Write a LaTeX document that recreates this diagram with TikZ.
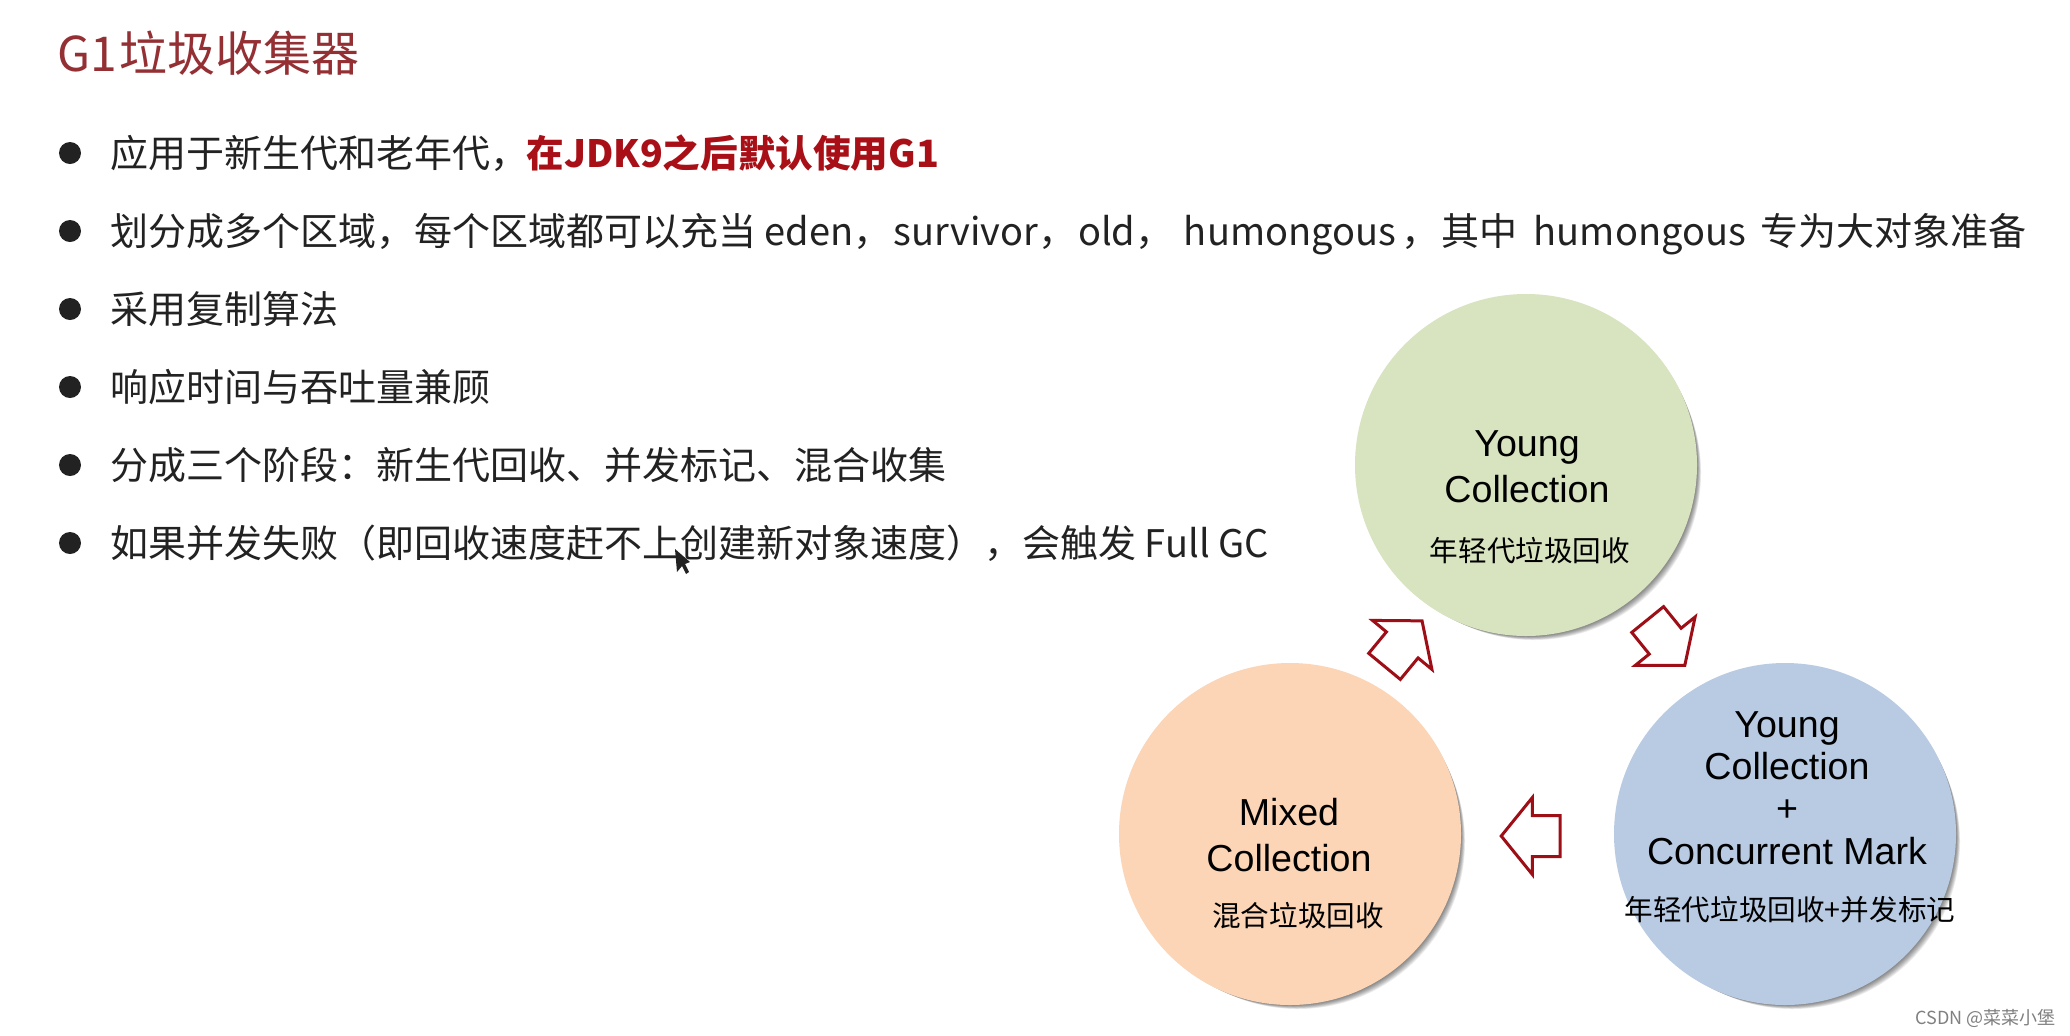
\documentclass[tikz,border=0pt]{standalone}
\usepackage{fontspec}
\setmainfont{Noto Sans CJK SC}
\newfontfamily\latinfont{Liberation Sans}
\newcommand{\zhcomma}{^^^^ff0c}
\newcommand{\zhcolon}{^^^^ff1a}
\newcommand{\zhopen}{^^^^ff08}
\newcommand{\zhclose}{^^^^ff09}
\usetikzlibrary{shapes.arrows}
\definecolor{titlered}{HTML}{943034}
\definecolor{boldred}{HTML}{A80F16}
\definecolor{arrowred}{HTML}{9E0E16}
\definecolor{younggreen}{HTML}{D8E3BF}
\definecolor{markblue}{HTML}{B9CBE3}
\definecolor{mixedorange}{HTML}{FBD5B6}
\definecolor{inktext}{HTML}{222222}
\tikzset{
  dotmark/.style={circle,fill=inktext,minimum size=11pt,inner sep=0pt},
  bulletline/.style={anchor=base west,inner sep=0pt,text=inktext,font=\fontsize{19}{23}\selectfont},
  stage/.style={circle,minimum size=171pt,inner sep=0pt},
  stagename/.style={align=center,inner sep=0pt,text=black,font=\latinfont\fontsize{18.8}{23}\selectfont},
  stagenote/.style={inner sep=0pt,text=black,font=\fontsize{14.3}{17}\selectfont},
  blockarrow/.style={single arrow,draw=arrowred,fill=white,line width=1.5pt,inner xsep=0pt,inner ysep=9.5pt,
    minimum height=29.5pt,minimum width=37.5pt,single arrow head extend=9pt,
    single arrow tip angle=102,single arrow head indent=0pt}
}
\begin{document}
\begin{tikzpicture}[x=0.5pt,y=-0.5pt]
\fill[white] (0,0) rectangle (2070,1035);
\useasboundingbox (0,0) rectangle (2070,1035);
\node[anchor=west,inner sep=0pt,text=titlered,font=\fontsize{24}{28}\selectfont] (title) at (57,53) {G1\hspace{1pt}垃圾收集器};
% bullets
\node[dotmark] (dota) at (70,153) {};
\node[bulletline] (linea) at (110,167) {应用于新生代和老年代\zhcomma\hspace{-1pt}\textcolor{boldred}{\bfseries\fontsize{18.8}{23}\selectfont 在JDK9之后默认使用G1}};
\node[dotmark] (dotb) at (70,231) {};
\node[bulletline] (lineb) at (110,245) {划分成多个区域\zhcomma 每个区域都可以充当 eden\zhcomma\hspace{1pt}survivor\zhcomma\hspace{1pt}old\zhcomma\hspace{1pt} humongous\hspace{2.5pt}\zhcomma\hspace{1pt}其中\hspace{4pt} humongous\hspace{3pt} 专为大对象准备};
\node[dotmark] (dotc) at (70,309) {};
\node[bulletline] (linec) at (110,323) {采用复制算法};
\node[dotmark] (dotd) at (70,387) {};
\node[bulletline] (lined) at (110,401) {响应时间与吞吐量兼顾};
\node[dotmark] (dote) at (70,465) {};
\node[bulletline] (linee) at (110,479) {分成三个阶段\zhcolon 新生代回收、并发标记、混合收集};
\node[dotmark] (dotf) at (70,543) {};
\node[bulletline] (linef) at (110,557) {如果并发失败\zhopen 即回收速度赶不上创建新对象速度\zhclose\zhcomma 会触发 Full GC};
% soft shadows
\foreach \cx/\cy in {1526/465,1785/834,1290/834}
  \foreach \s in {1,...,8}
    \fill[black,opacity=0.07] (\cx+\s,\cy+\s) circle (171-\s/2);
% circles
\node[stage,fill=younggreen] (young) at (1526,465) {};
\node[stage,fill=markblue] (mark) at (1785,834) {};
\node[stage,fill=mixedorange] (mixed) at (1290,834) {};
\node[stagename] (youngname) at (1527,467) {Young\\Collection};
\node[stagenote] (youngnote) at (1530,551) {年轻代垃圾回收};
\node[stagename,font=\latinfont\fontsize{18.8}{21.2}\selectfont] (markname) at (1787,788) {Young\\Collection\\+\\Concurrent Mark};
\node[stagenote] (marknote) at (1790,910) {年轻代垃圾回收+并发标记};
\node[stagename] (mixedname) at (1289,835) {Mixed\\Collection};
\node[stagenote] (mixednote) at (1298,916) {混合垃圾回收};
% arrows
\node[blockarrow,rotate=-51] (youngtomark) at (1661,636) {};
\node[blockarrow,rotate=180] (marktomixed) at (1539,836) {};
\node[blockarrow,rotate=50.5] (mixedtoyoung) at (1398,650) {};
% cursor
\fill[inktext] (675,549) -- (677,572) -- (682,566) -- (686,574) -- (689,572) -- (685,564) -- (690,562) -- cycle;
\node[anchor=east,inner sep=0pt,text=gray,font=\fontsize{9}{11}\selectfont] (watermark) at (2056,1018) {CSDN @菜菜小堡};
\end{tikzpicture}
\end{document}
